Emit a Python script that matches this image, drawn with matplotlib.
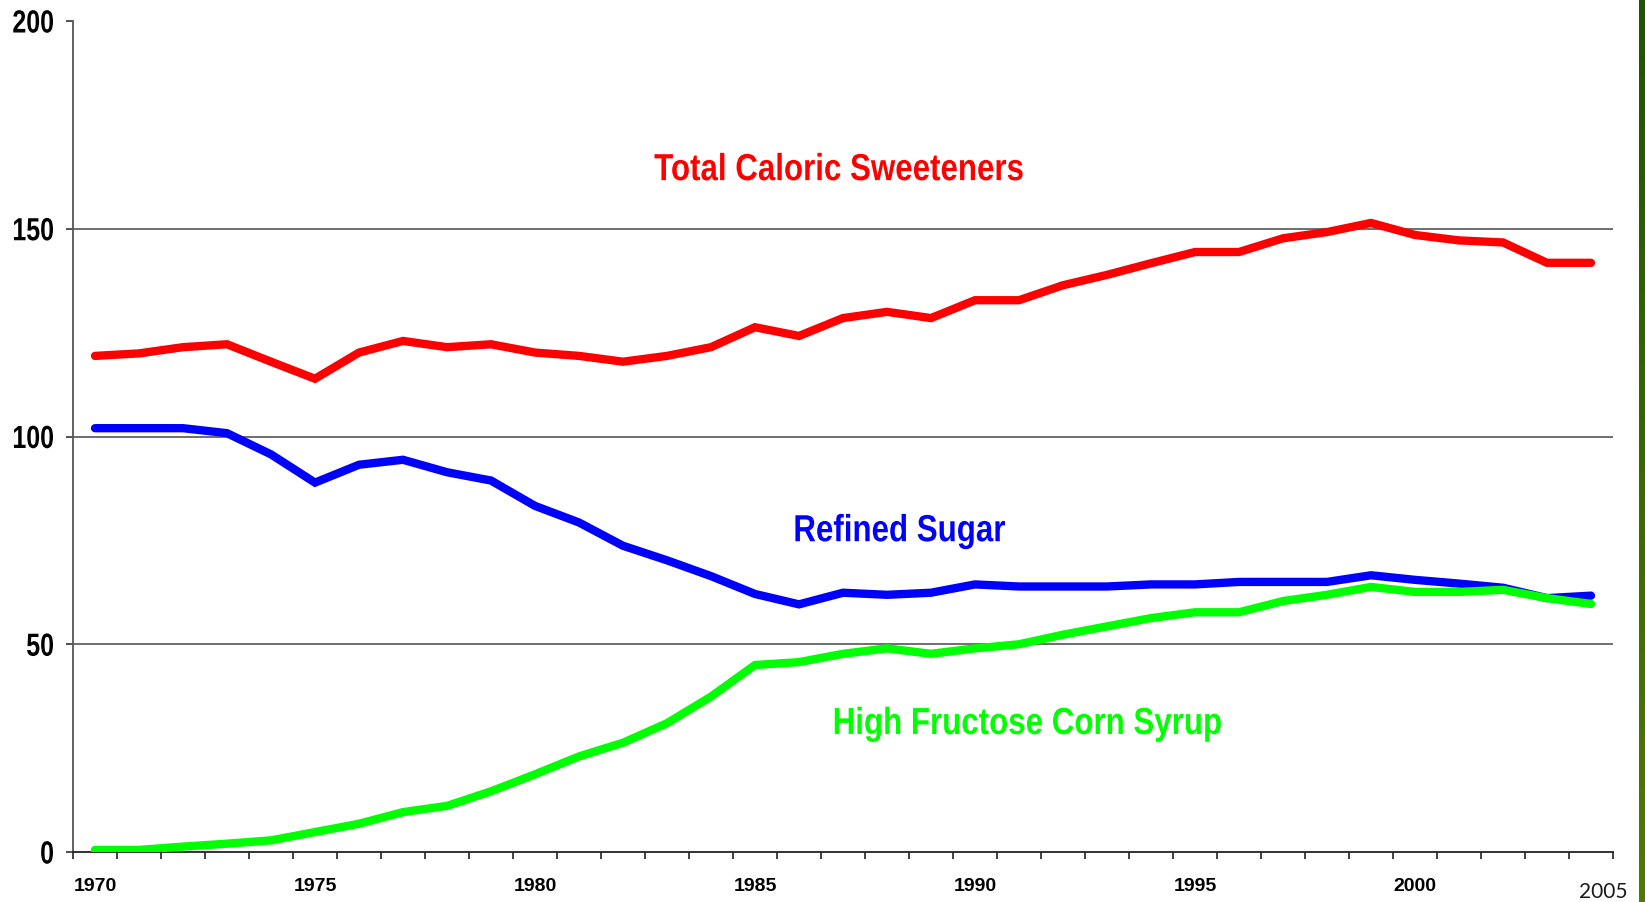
import matplotlib
matplotlib.use( 'Agg' )
import matplotlib.pyplot as plt
import matplotlib.transforms as mtransforms
from matplotlib.font_manager import FontProperties
from matplotlib.textpath import TextPath
from matplotlib.patches import PathPatch
from matplotlib.colors import LinearSegmentedColormap
import numpy as np

years = list( range( 1970, 2005 ) )

total_caloric = [
    119.4, 120.0, 121.5, 122.2, 118.0, 113.9, 120.2, 123.0, 121.5, 122.2,
    120.2, 119.4, 118.0, 119.4, 121.5, 126.3, 124.2, 128.5, 130.0, 128.5,
    132.8, 132.8, 136.4, 138.9, 141.7, 144.4, 144.4, 147.7, 149.2, 151.4,
    148.5, 147.2, 146.7, 141.8, 141.8,
]
refined_sugar = [
    102.0, 102.0, 102.0, 100.8, 95.7, 88.9, 93.2, 94.4, 91.4, 89.4,
    83.3, 79.3, 73.7, 70.2, 66.4, 62.1, 59.6, 62.4, 61.9, 62.4,
    64.4, 63.9, 63.9, 63.9, 64.4, 64.4, 65.0, 65.0, 65.0, 66.6,
    65.5, 64.6, 63.6, 61.1, 61.7,
]
hfcs = [
    0.5, 0.5, 1.3, 2.0, 2.8, 4.8, 6.8, 9.6, 11.1, 14.6,
    18.7, 23.0, 26.3, 31.0, 37.4, 45.0, 45.7, 47.7, 49.0, 47.7,
    49.0, 50.0, 52.3, 54.3, 56.3, 57.7, 57.7, 60.4, 61.9, 63.8,
    62.6, 62.6, 63.1, 61.1, 59.7,
]

y_ticks = [ 0, 50, 100, 150, 200 ]
x_label_years = [ 1970, 1975, 1980, 1985, 1990, 1995, 2000 ]

BOLD = FontProperties( family = 'Liberation Sans', weight = 'bold' )

fig = plt.figure( figsize = ( 16.45, 9.03 ), dpi = 100 )
ax = fig.add_axes( [ 73 / 1645, 1 - 853 / 903, 1540 / 1645, 831 / 903 ] )


# Arial Narrow is not around, so squeeze Liberation Sans Bold glyph paths
def narrow_text( s, x, y, trans, size_px, squeeze, color, ha = 'center', dx = 0, dy = 0 ):
    tp = TextPath( ( 0, 0 ), s, size = size_px, prop = BOLD )
    bb = tp.get_extents()
    if ha == 'center':
        x0 = -( bb.x0 + bb.x1 ) / 2
    elif ha == 'right':
        x0 = -bb.x1
    else:
        x0 = -bb.x0
    t = ( mtransforms.Affine2D().translate( x0, 0 ).scale( squeeze, 1 ).translate( dx, dy )
          + mtransforms.ScaledTranslation( x, y, trans ) )
    patch = PathPatch( tp, transform = t, facecolor = color, edgecolor = 'none',
                       linewidth = 0, zorder = 5 )
    fig.add_artist( patch )


x = np.arange( len( years ) )
ax.set_xlim( -0.5, len( years ) - 0.5 )
ax.set_ylim( 0, 200 )

# gridlines
for v in y_ticks[ 1:-1 ]:
    ax.axhline( v, color = '#555555', linewidth = 1.2, zorder = 1 )

line_kw = dict( linewidth = 6.0, solid_capstyle = 'round', solid_joinstyle = 'miter', zorder = 3 )
ax.plot( x, total_caloric, color = '#ff0000', **line_kw )
ax.plot( x, refined_sugar, color = '#0000ff', **line_kw )
ax.plot( x, hfcs, color = '#00ff00', **line_kw )

# spines
for s in [ 'top', 'right' ]:
    ax.spines[ s ].set_visible( False )
ax.spines[ 'left' ].set_color( '#555555' )
ax.spines[ 'left' ].set_linewidth( 1.3 )
ax.spines[ 'bottom' ].set_color( '#222222' )
ax.spines[ 'bottom' ].set_linewidth( 1.3 )

# y ticks (labels drawn as narrow paths)
ax.set_yticks( y_ticks )
ax.set_yticklabels( [] )
ax.tick_params( axis = 'y', direction = 'out', length = 5, width = 1.2, color = '#333333' )
for v in y_ticks:
    narrow_text( str( v ), 0, v, ax.get_yaxis_transform(), 32, 0.78, '#000000',
                 ha = 'right', dx = -20, dy = -11.5 )

# x ticks: marks at category boundaries, labels at centers
ax.set_xticks( np.arange( -0.5, len( years ), 1.0 ), minor = True )
ax.set_xticks( [ years.index( y ) for y in x_label_years ] )
ax.set_xticklabels( [ str( y ) for y in x_label_years ], fontfamily = 'Liberation Sans',
                    fontweight = 'bold', fontsize = 14 )
ax.tick_params( axis = 'x', which = 'major', length = 0, pad = 18 )
ax.tick_params( axis = 'x', which = 'minor', direction = 'out', length = 5,
                width = 1.2, color = '#222222' )

# series labels
narrow_text( 'Total Caloric Sweeteners', 16.9, 161.7, ax.transData, 37.7, 0.83, '#ff0000' )
narrow_text( 'Refined Sugar', 18.3, 74.8, ax.transData, 37.7, 0.83, '#0000ff' )
narrow_text( 'High Fructose Corn Syrup', 21.2, 28.4, ax.transData, 37.7, 0.83, '#00ff00' )

# stray year label bottom right
fig.text( 1603 / 1645, 1 - 898 / 903, '2005', ha = 'center', va = 'baseline',
          fontfamily = 'Lato', fontsize = 15, color = '#1a1a1a' )

# green stripe on right edge
sax = fig.add_axes( [ 1639 / 1645, 0, 6 / 1645, 1 ] )
grad = np.linspace( 0, 1, 256 ).reshape( -1, 1 )
cmap = LinearSegmentedColormap.from_list( 'stripe', [ '#1f5400', '#4e7c00' ] )
sax.imshow( grad, aspect = 'auto', cmap = cmap, extent = ( 0, 1, 1, 0 ) )
sax.axis( 'off' )

fig.savefig( 'out.png', dpi = 100 )
plt.close( fig )
